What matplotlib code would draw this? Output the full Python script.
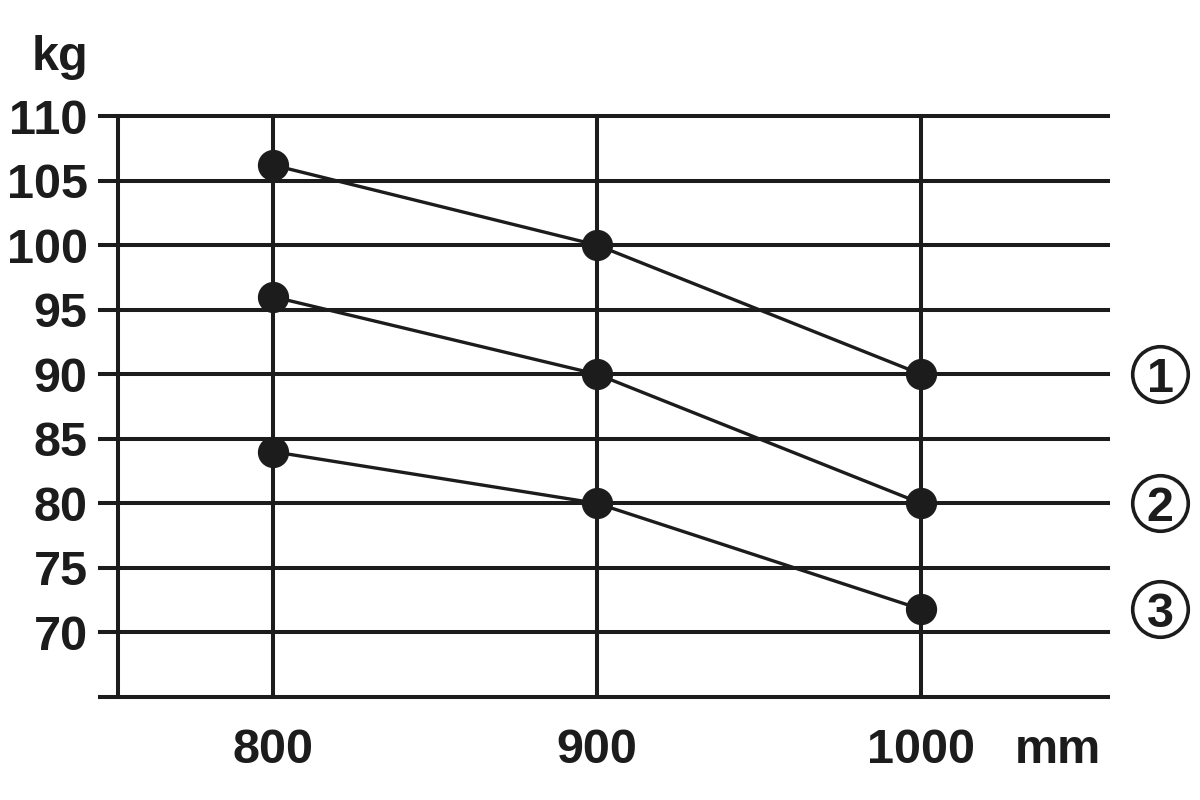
import matplotlib
matplotlib.use("Agg")
import matplotlib.pyplot as plt

plt.rcParams['font.family'] = ['Liberation Sans', 'DejaVu Sans']

lengths = [800, 900, 1000]
series = {
    "1": [106.2, 100, 90],
    "2": [96, 90, 80],
    "3": [84, 80, 71.8],
}
yticks = [70, 75, 80, 85, 90, 95, 100, 105, 110]
ink = '#1c1c1c'
FS = 35

fig = plt.figure(figsize=(12, 8), dpi=100)
ax = fig.add_axes([100/1200, 1-697/800, 1008/1200, (697-116)/800])
ax.set_xlim(746.6, 1057.7)
ax.set_ylim(65, 110)
for s in ax.spines.values():
    s.set_visible(False)

lw = 2.9
for y in [65] + yticks:
    ax.axhline(y, color=ink, lw=lw, clip_on=False, zorder=1)
ax.plot([752.2, 752.2], [65, 110], color=ink, lw=lw, clip_on=False, zorder=1)
for x in lengths:
    ax.plot([x, x], [65, 110], color=ink, lw=lw, clip_on=False, zorder=1)

for name, vals in series.items():
    ax.plot(lengths, vals, color=ink, lw=2.4, marker='o', markersize=21.5,
            markerfacecolor=ink, markeredgecolor=ink, clip_on=False, zorder=3)

ax.set_yticks(yticks)
ax.set_yticklabels([str(v) for v in yticks], fontsize=FS, fontweight='bold', color=ink)
ax.set_xticks(lengths)
ax.set_xticklabels([str(v) for v in lengths], fontsize=FS, fontweight='bold', color=ink)
ax.tick_params(axis='y', length=0, pad=9)
ax.tick_params(axis='x', length=0, pad=22)

fig.text(88/1200, 1-57/800, "kg", fontsize=FS, fontweight='bold', color=ink,
         ha='right', va='center')
ax.annotate("mm", xy=(1029, 65), xytext=(0, -22), textcoords='offset points',
            fontsize=FS, fontweight='bold', color=ink, ha='left', va='top',
            annotation_clip=False)

for name, vals in series.items():
    yv = vals[-1]
    ax.plot([1073.8], [yv], marker='o', markersize=40, markerfacecolor='white',
            markeredgecolor=ink, markeredgewidth=2.6, clip_on=False, zorder=4)
    ax.text(1073.8, yv, name, fontsize=35, fontweight='bold', color=ink,
            ha='center', va='center_baseline', zorder=5, clip_on=False)

fig.savefig("out.png", dpi=100)
